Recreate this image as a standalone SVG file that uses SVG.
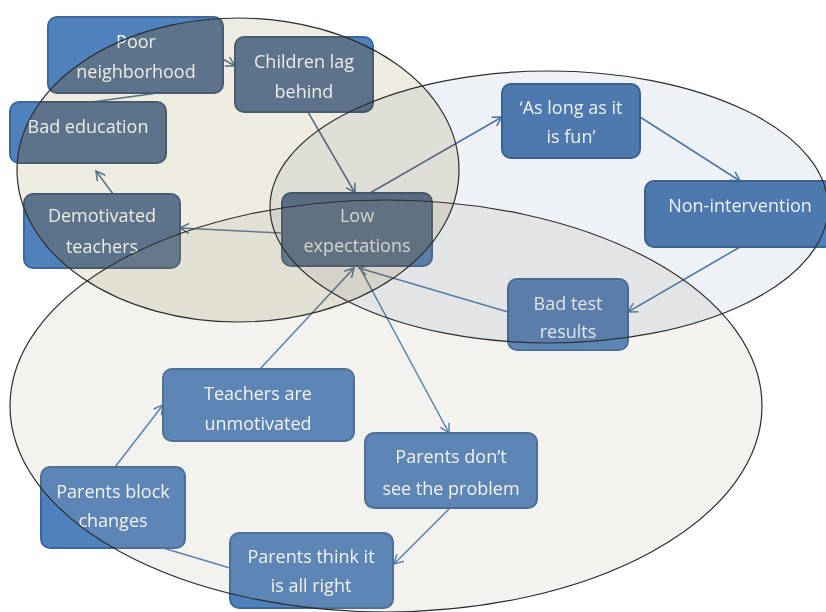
<svg xmlns="http://www.w3.org/2000/svg" width="826" height="612" viewBox="0 0 826 612">
<style>
.box{fill:#4f81bd;stroke:#3d6799;stroke-width:2}
.lbl{font-family:"Open Sans","Noto Sans","Liberation Sans",sans-serif;font-size:18px;fill:#ffffff;text-anchor:middle}
.con{fill:none;stroke:#4a7eb5;stroke-width:1.5}
.arr{marker-end:url(#ah)}
.desat{fill:#808080;mix-blend-mode:saturation}
.tint{mix-blend-mode:multiply;stroke:none}
.outline{fill:none;stroke:#2e2e2e;stroke-width:1.2}
</style>
<defs>
<marker id="ah" markerWidth="12" markerHeight="12" refX="10" refY="6" orient="auto" markerUnits="userSpaceOnUse">
<path d="M1,1 L10,6 L1,11" fill="none" stroke="#4a7eb5" stroke-width="1.5"/>
</marker>
</defs>
<rect x="0" y="0" width="826" height="612" fill="#ffffff"/>

<g id="connectors">
<path class="con arr" d="M221,58 L235,66"/>
<path class="con" d="M92,102 L165,92"/>
<path class="con arr" d="M308,112 L355,193"/>
<path class="con arr" d="M370,193 L502,117"/>
<path class="con arr" d="M640,117 L740,181"/>
<path class="con arr" d="M740,247 L628,312"/>
<path class="con arr" d="M508,312 L359,268"/>
<path class="con arr" d="M282,233 L180,228"/>
<path class="con arr" d="M113,194 L96,171"/>
<path class="con arr" d="M260,369 L354,268"/>
<path class="con arr" d="M360,268 L449,433"/>
<path class="con arr" d="M450,508 L394,564"/>
<path class="con" d="M230,568 L163,548"/>
<path class="con arr" d="M115,467 L163,405"/>
</g>

<g id="poor-neighborhood">
<rect class="box" x="48" y="17" width="175" height="76" rx="9"/>
<text class="lbl" x="136" y="48">Poor</text>
<text class="lbl" x="136" y="78">neighborhood</text>
</g>
<g id="children-lag-behind">
<rect class="box" x="235" y="37" width="138" height="75" rx="9"/>
<text class="lbl" x="304" y="68">Children lag</text>
<text class="lbl" x="304" y="98">behind</text>
</g>
<g id="bad-education">
<rect class="box" x="10" y="102" width="156" height="61" rx="9"/>
<text class="lbl" x="88" y="133">Bad education</text>
</g>
<g id="demotivated-teachers">
<rect class="box" x="24" y="194" width="156" height="74" rx="9"/>
<text class="lbl" x="102" y="222">Demotivated</text>
<text class="lbl" x="102" y="253">teachers</text>
</g>
<g id="low-expectations">
<rect class="box" x="282" y="193" width="150" height="73" rx="9"/>
<text class="lbl" x="357" y="222">Low</text>
<text class="lbl" x="357" y="252">expectations</text>
</g>
<g id="as-long-as-it-is-fun">
<rect class="box" x="502" y="84" width="138" height="74" rx="9"/>
<text class="lbl" x="571" y="114">‘As long as it</text>
<text class="lbl" x="571" y="143">is fun’</text>
</g>
<g id="non-intervention">
<rect class="box" x="645" y="181" width="188" height="66" rx="9"/>
<text class="lbl" x="740" y="212">Non-intervention</text>
</g>
<g id="bad-test-results">
<rect class="box" x="508" y="279" width="120" height="71" rx="9"/>
<text class="lbl" x="568" y="310">Bad test</text>
<text class="lbl" x="568" y="338">results</text>
</g>
<g id="teachers-are-unmotivated">
<rect class="box" x="163" y="369" width="191" height="72" rx="9"/>
<text class="lbl" x="258" y="400">Teachers are</text>
<text class="lbl" x="258" y="430">unmotivated</text>
</g>
<g id="parents-dont-see-the-problem">
<rect class="box" x="365" y="433" width="172" height="75" rx="9"/>
<text class="lbl" x="451" y="463">Parents don’t</text>
<text class="lbl" x="451" y="495">see the problem</text>
</g>
<g id="parents-block-changes">
<rect class="box" x="41" y="467" width="144" height="81" rx="9"/>
<text class="lbl" x="113" y="498">Parents block</text>
<text class="lbl" x="113" y="527">changes</text>
</g>
<g id="parents-think-it-is-all-right">
<rect class="box" x="230" y="533" width="163" height="75" rx="9"/>
<text class="lbl" x="311" y="563">Parents think it</text>
<text class="lbl" x="311" y="592">is all right</text>
</g>

<g id="regions">
<ellipse cx="386" cy="406" rx="376" ry="206" fill="#afaa96" fill-opacity="0.15"/>
<ellipse class="desat" cx="549" cy="207" rx="279" ry="136" opacity="0.1"/>
<ellipse class="tint" cx="549" cy="207" rx="279" ry="136" fill="#eef1f5"/>
<ellipse class="desat" cx="238" cy="170" rx="221" ry="152" opacity="0.45"/>
<ellipse class="tint" cx="238" cy="170" rx="221" ry="152" fill="#eeebe1"/>
<ellipse class="outline" cx="386" cy="406" rx="376" ry="206"/>
<ellipse class="outline" cx="549" cy="207" rx="279" ry="136"/>
<ellipse class="outline" cx="238" cy="170" rx="221" ry="152"/>
</g>
</svg>
